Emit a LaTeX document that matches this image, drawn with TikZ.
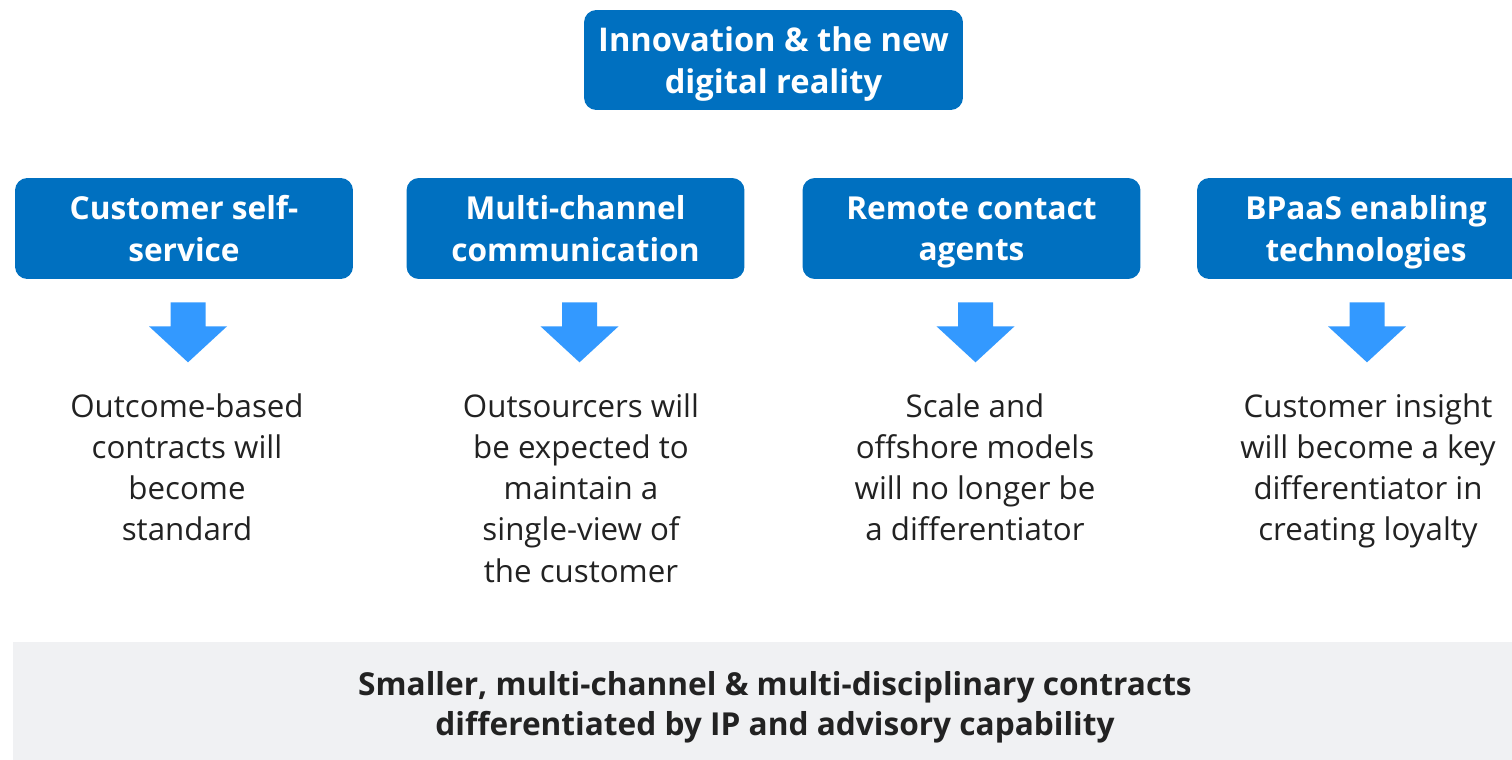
\documentclass[tikz,border=0pt]{standalone}
\usepackage{fontspec}
\setmainfont{Open Sans}
\usetikzlibrary{positioning}

\definecolor{ubsblue}{HTML}{0070C0}
\definecolor{arrowblue}{HTML}{3399FF}
\definecolor{bandgrey}{HTML}{F0F1F3}
\definecolor{bodytext}{HTML}{222222}

\tikzset{
    topic/.style = {fill=ubsblue, rounded corners=7pt, text=white, align=center,
                    font=\bfseries\fontsize{18}{23.6}\selectfont, inner sep=0pt,
                    minimum width=6.76cm, minimum height=2.02cm, text depth=0pt},
    effect/.style = {text=bodytext, align=center, anchor=north, inner sep=0pt,
                     font=\fontsize{17.8}{23.5}\selectfont},
    downarrow/.pic = {\fill[arrowblue] (-17.5,0) -- (17.5,0) -- (17.5,24) -- (39,24)
                      -- (0,60) -- (-39,24) -- (-17.5,24) -- cycle;}
}

\begin{document}
\begin{tikzpicture}[x=0.02cm, y=-0.02cm]

    \useasboundingbox (0,0) rectangle (1512,760);

    % main driver
    \node[topic, minimum width=7.58cm, minimum height=2cm, font=\bfseries\fontsize{18.6}{23.6}\selectfont] (driver) at (773.5,60)
        {Innovation \& the new\\digital reality};

    % the four trends
    \node[topic] (selfservice) at (184,228.5) {Customer self-\\service};
    \node[topic] (multichannel) at (575.5,228.5) {Multi-channel\\communication};
    \node[topic] (remote) at (971.5,228.5) {Remote contact\\agents};
    \node[topic] (bpaas) at (1366,228.5) {BPaaS enabling\\technologies};

    % arrows down to the outcomes
    \path (selfservice.south) ++(4,23) pic {downarrow};
    \path (multichannel.south) ++(4,23) pic {downarrow};
    \path (remote.south) ++(4,23) pic {downarrow};
    \path (bpaas.south) ++(1,23) pic {downarrow};

    % outcomes
    \node[effect] (outcome1) at (187,393) {Outcome-based\\contracts will\\become\\standard};
    \node[effect] (outcome2) at (581,393) {Outsourcers will\\be expected to\\maintain a\\single-view of\\the customer};
    \node[effect] (outcome3) at (975,393) {Scale and\\offshore models\\will no longer be\\a differentiator};
    \node[effect] (outcome4) at (1368,393) {Customer insight\\will become a key\\differentiator in\\creating loyalty};

    % conclusion band
    \fill[bandgrey] (13,642) rectangle (1512,760);
    \node[text=bodytext, align=center, font=\bfseries\fontsize{18}{23}\selectfont] (summary) at (775,707)
        {Smaller, multi-channel \& multi-disciplinary contracts\\differentiated by IP and advisory capability};

\end{tikzpicture}
\end{document}
